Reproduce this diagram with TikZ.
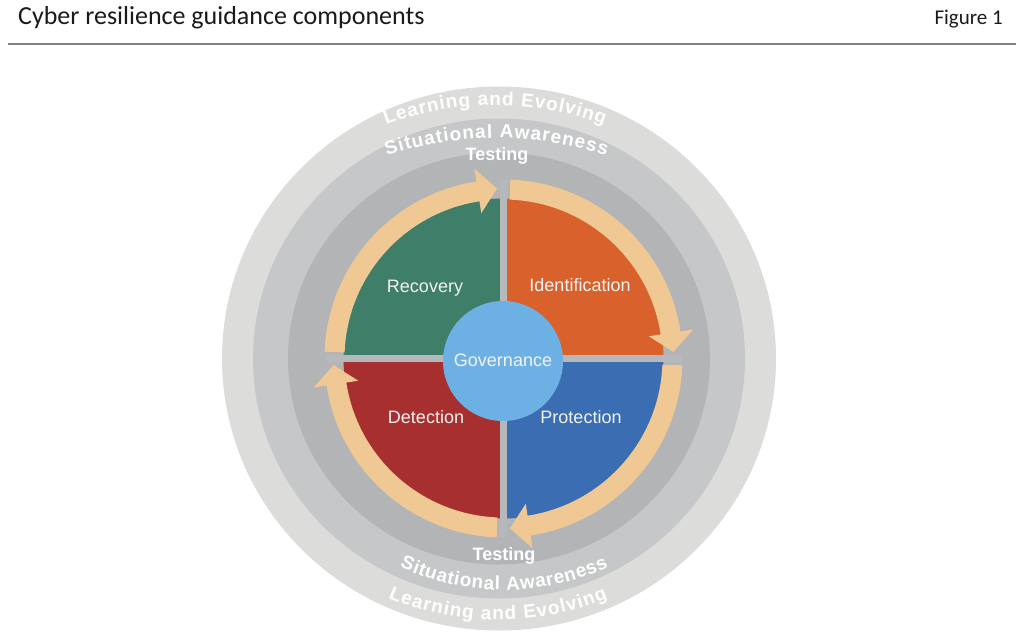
\documentclass[tikz,border=0pt]{standalone}
\usepackage{fontspec}
\setmainfont{Carlito}
\newfontfamily\arial{Liberation Sans}
\usetikzlibrary{decorations.text}
\definecolor{ringA}{HTML}{DCDDDB}
\definecolor{ringB}{HTML}{C6C7C8}
\definecolor{ringC}{HTML}{B2B4B6}
\definecolor{sepgrey}{HTML}{B6B9BC}
\definecolor{qgreen}{HTML}{3F7E69}
\definecolor{qorange}{HTML}{D9612B}
\definecolor{qred}{HTML}{A82F2F}
\definecolor{qblue}{HTML}{3A6DB1}
\definecolor{govblue}{HTML}{6DB1E4}
\definecolor{arrowtan}{HTML}{F0C893}
\definecolor{rulegrey}{HTML}{808080}
\definecolor{labelwhite}{HTML}{F2F2F2}
\definecolor{titleblack}{HTML}{1A1A1A}
\newcommand{\tanarrow}[2]{%
  \fill[arrowtan] (#1:159) arc[start angle=#1, end angle={#2+6.5}, radius=159]
    -- ({#2+6.5}:147) -- (#2:170) -- ({#2+6.5}:192) -- ({#2+6.5}:179)
    arc[start angle={#2+6.5}, end angle=#1, radius=179] -- cycle;}
\begin{document}
\begin{tikzpicture}[x=1pt,y=1pt,
  qlabel/.style={font=\arial\fontsize{18}{20}\selectfont, text=labelwhite, inner sep=0pt, anchor=base},
  ringlabel/.style={font=\arial\bfseries\fontsize{18}{20}\selectfont, text=white, inner sep=0pt, anchor=base},
  arctext/.style={decorate, decoration={text along path,
      text={|\arial\bfseries\fontsize{19}{21}\selectfont|#1},
      text color=white, text align={fit to path}}}]
\useasboundingbox (0,0) rectangle (1024,641);
\fill[white] (0,0) rectangle (1024,641);
% header
\node[anchor=base west, font=\fontsize{26}{30}\selectfont, text=titleblack, inner sep=0pt] (title) at (18,616) {Cyber resilience guidance components};
\node[anchor=base east, font=\fontsize{21}{24}\selectfont, text=titleblack, inner sep=0pt] (fig) at (1003,616) {Figure 1};
\coordinate (ruleL) at (8,597);
\coordinate (ruleR) at (1016,597);
\draw[rulegrey, line width=1.5pt] (ruleL) -- (ruleR);
% rings
\fill[ringA] (499,282.5) ellipse[x radius=277, y radius=272];
\fill[ringB] (499,282.5) ellipse[x radius=246, y radius=240];
\fill[ringC] (499,282.5) ellipse[x radius=211, y radius=206];
% quadrants
\begin{scope}[shift={(503.5,282.5)}]
  \fill[qgreen] (0,0) -- (180:160) arc[start angle=180, end angle=90, radius=160] -- cycle;
  \fill[qorange] (0,0) -- (90:160) arc[start angle=90, end angle=0, radius=160] -- cycle;
  \fill[qblue] (0,0) -- (0:160) arc[start angle=0, end angle=-90, radius=160] -- cycle;
  \fill[qred] (0,0) -- (-90:160) arc[start angle=-90, end angle=-180, radius=160] -- cycle;
  \fill[sepgrey] (-3.5,-178) rectangle (3.5,178);
  \fill[sepgrey] (-178,-3.5) rectangle (178,3.5);
  \tanarrow{177.8}{92.2}
  \tanarrow{87.8}{2.2}
  \tanarrow{-2.2}{-87.8}
  \tanarrow{-92.2}{-177.8}
\end{scope}
% governance
\node[circle, fill=govblue, minimum size=120pt, inner sep=0pt] (gov) at (503,280) {};
\node[qlabel] (govtext) at (503,275) {Governance};
% quadrant labels
\node[qlabel] (recovery) at (425,349) {Recovery};
\node[qlabel] (ident) at (580,350) {Identification};
\node[qlabel] (detect) at (426,218) {Detection};
\node[qlabel] (protect) at (581,218) {Protection};
% ring labels
\node[ringlabel] (testtop) at (497,480) {Testing};
\node[ringlabel] (testbot) at (504,81) {Testing};
\path[arctext={Learning and Evolving}] ([shift={(110.5:311)}]495,225) arc[start angle=110.5, end angle=69.5, radius=311];
\path[arctext={Situational Awareness}] ([shift={(108.2:351)}]496.5,152) arc[start angle=108.2, end angle=71.8, radius=351];
\path[arctext={Situational Awareness}] ([shift={(245:247)}]504,298) arc[start angle=245, end angle=295, radius=247];
\path[arctext={Learning and Evolving}] ([shift={(247.4:286)}]498,307) arc[start angle=247.4, end angle=292.6, radius=286];
\end{tikzpicture}
\end{document}
